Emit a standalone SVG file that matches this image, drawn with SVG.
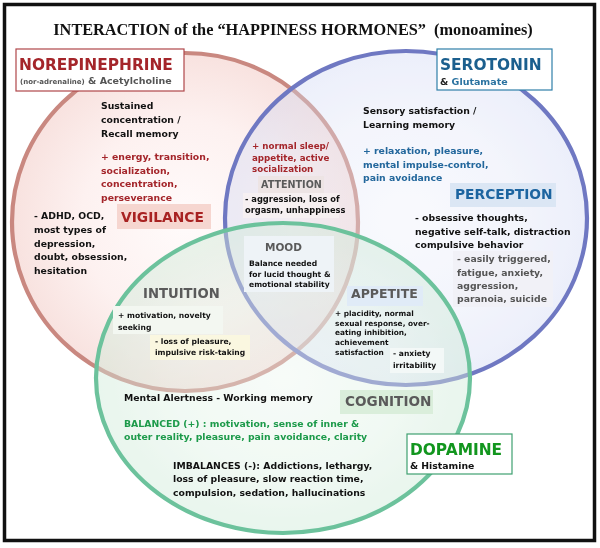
<svg xmlns="http://www.w3.org/2000/svg" width="600" height="548" viewBox="0 0 600 548">
<defs>
<radialGradient id="gRed" cx="0.5" cy="0.5" r="0.5"><stop offset="0" stop-color="#fffbfb"/><stop offset="0.6" stop-color="#fdf1f0"/><stop offset="1" stop-color="#f8e2df"/></radialGradient>
<radialGradient id="gBlue" cx="0.5" cy="0.5" r="0.5"><stop offset="0" stop-color="#fbfbfe"/><stop offset="0.6" stop-color="#f2f3fc"/><stop offset="1" stop-color="#e5e8f8"/></radialGradient>
<radialGradient id="gGreen" cx="0.5" cy="0.5" r="0.5"><stop offset="0" stop-color="#fafdfb"/><stop offset="0.6" stop-color="#eef8f1"/><stop offset="1" stop-color="#ddf1e4"/></radialGradient>
<style>
text{font-family:"DejaVu Sans",Verdana,sans-serif;font-weight:bold}
.t{font-size:9.3px;fill:#111}
.s{font-size:7.6px;fill:#111}
.red{fill:#a4252a}
.blue{fill:#23679c}
.grn{fill:#1c9a4a}
.gry{fill:#555}
.lbl{fill:#5a5a5a}
.fill{mix-blend-mode:multiply}
.ring{fill:none;stroke-width:4.2}
</style>
</defs>
<rect x="0" y="0" width="600" height="548" fill="#ffffff"/>
<rect x="4.5" y="4.5" width="590" height="536" fill="#ffffff" stroke="#111" stroke-width="3.5"/>
<text x="293" y="35" text-anchor="middle" xml:space="preserve" style="font-family:'Liberation Serif','Times New Roman',serif;font-size:16.3px;fill:#111">INTERACTION of the “HAPPINESS HORMONES”  (monoamines)</text>

<g id="circles">
<ellipse class="fill" cx="185" cy="222" rx="173" ry="169" fill="url(#gRed)"/>
<ellipse class="ring" cx="185" cy="222" rx="173" ry="169" stroke="#c98880"/>
<ellipse class="fill" cx="406" cy="218" rx="181" ry="167" fill="url(#gBlue)" opacity="0.85"/>
<ellipse cx="406" cy="218" rx="181" ry="167" fill="#f4f5fc" opacity="0.35"/>
<ellipse class="ring" cx="406" cy="218" rx="181" ry="167" stroke="#6f78c2"/>
<ellipse class="fill" cx="283" cy="378" rx="187" ry="155" fill="url(#gGreen)" opacity="0.85"/>
<ellipse cx="283" cy="378" rx="187" ry="155" fill="#f2faf4" opacity="0.4"/>
<ellipse class="ring" cx="283" cy="378" rx="187" ry="155" stroke="#6cc29c"/>
</g>

<g id="label-backgrounds">
<rect x="117" y="204" width="94" height="25" fill="#f6d6d0"/>
<rect x="258" y="176" width="66" height="17" fill="#ede4e4"/>
<rect x="243" y="193" width="96" height="25" fill="#f7f1f1" opacity="0.8"/>
<rect x="450" y="183" width="106" height="24" fill="#dbe6f4"/>
<rect x="453" y="251" width="100" height="56" fill="#f1f1f7"/>
<rect x="244" y="236" width="90" height="56" fill="#eef3f7"/>
<rect x="113" y="306" width="110" height="28" fill="#f3f7f1"/>
<rect x="150" y="335" width="100" height="25" fill="#faf7e0"/>
<rect x="347" y="286" width="76" height="20" fill="#e0ebf7"/>
<rect x="390" y="348" width="54" height="25" fill="#f3f8f7"/>
<rect x="340" y="390" width="93" height="24" fill="#daeedb"/>
</g>

<g id="norepinephrine">
<rect x="16" y="49" width="168" height="42" fill="#ffffff" stroke="#b0474a" stroke-width="1.2"/>
<text x="19" y="70" style="font-size:15.4px" class="red">NOREPINEPHRINE</text>
<text x="20" y="84"><tspan style="font-size:7px" class="gry">(nor-adrenaline)</tspan><tspan style="font-size:9.5px" class="gry"> &amp; Acetylcholine</tspan></text>
<text class="t" x="101" y="109">Sustained</text>
<text class="t" x="101" y="123">concentration /</text>
<text class="t" x="101" y="137">Recall memory</text>
<text class="t red" x="101" y="160">+ energy, transition,</text>
<text class="t red" x="101" y="174">socialization,</text>
<text class="t red" x="101" y="187">concentration,</text>
<text class="t red" x="101" y="201">perseverance</text>
<text x="121" y="222" style="font-size:13.8px;fill:#a82222">VIGILANCE</text>
<text class="t" x="34" y="219">- ADHD, OCD,</text>
<text class="t" x="34" y="233">most types of</text>
<text class="t" x="34" y="247">depression,</text>
<text class="t" x="34" y="260">doubt, obsession,</text>
<text class="t" x="34" y="274">hesitation</text>
</g>

<g id="attention">
<text class="t red" x="252" y="149" style="font-size:8.7px">+ normal sleep/</text>
<text class="t red" x="252" y="161" style="font-size:8.7px">appetite, active</text>
<text class="t red" x="252" y="172" style="font-size:8.7px">socialization</text>
<text x="261" y="188" class="lbl" style="font-size:9.6px">ATTENTION</text>
<text class="t" x="245" y="202" style="font-size:8.3px">- aggression, loss of</text>
<text class="t" x="245" y="213" style="font-size:8.3px">orgasm, unhappiness</text>
</g>

<g id="serotonin">
<rect x="437" y="49" width="115" height="41" fill="#ffffff" stroke="#2f7fa8" stroke-width="1.2"/>
<text x="440" y="70" style="font-size:15.4px;fill:#1b5f8e">SEROTONIN</text>
<text x="440" y="85" style="font-size:9.5px"><tspan fill="#222">&amp; </tspan><tspan fill="#2a72a0">Glutamate</tspan></text>
<text class="t" x="363" y="114">Sensory satisfaction /</text>
<text class="t" x="363" y="128">Learning memory</text>
<text class="t blue" x="363" y="154">+ relaxation, pleasure,</text>
<text class="t blue" x="363" y="168">mental impulse-control,</text>
<text class="t blue" x="363" y="181">pain avoidance</text>
<text x="455" y="199" style="font-size:13.8px;fill:#1c64a0">PERCEPTION</text>
<text class="t" x="415" y="221">- obsessive thoughts,</text>
<text class="t" x="415" y="235">negative self-talk, distraction</text>
<text class="t" x="415" y="248">compulsive behavior</text>
<text class="t gry" x="457" y="262">- easily triggered,</text>
<text class="t gry" x="457" y="276">fatigue, anxiety,</text>
<text class="t gry" x="457" y="289">aggression,</text>
<text class="t gry" x="457" y="302">paranoia, suicide</text>
</g>

<g id="mood">
<text x="265" y="251" class="lbl" style="font-size:10.5px">MOOD</text>
<text class="s" x="249" y="266">Balance needed</text>
<text class="s" x="249" y="277">for lucid thought &amp;</text>
<text class="s" x="249" y="287">emotional stability</text>
</g>

<g id="intuition">
<text x="143" y="298" class="lbl" style="font-size:13.2px">INTUITION</text>
<text class="s" x="118" y="318">+ motivation, novelty</text>
<text class="s" x="118" y="330">seeking</text>
<text class="s" x="155" y="344">- loss of pleasure,</text>
<text class="s" x="155" y="355">impulsive risk-taking</text>
</g>

<g id="appetite">
<text x="351" y="298" class="lbl" style="font-size:12.5px">APPETITE</text>
<text class="s" x="335" y="316" style="font-size:7.4px">+ placidity, normal</text>
<text class="s" x="335" y="326" style="font-size:7.4px">sexual response, over-</text>
<text class="s" x="335" y="335" style="font-size:7.4px">eating inhibition,</text>
<text class="s" x="335" y="345" style="font-size:7.4px">achievement</text>
<text class="s" x="335" y="355" style="font-size:7.4px">satisfaction</text>
<text class="s" x="393" y="356" style="font-size:7.6px">- anxiety</text>
<text class="s" x="393" y="368" style="font-size:7.6px">irritability</text>
</g>

<g id="dopamine">
<text class="t" x="124" y="401">Mental Alertness - Working memory</text>
<text x="345" y="406" class="lbl" style="font-size:13.6px">COGNITION</text>
<text class="t grn" x="124" y="427">BALANCED (+) : motivation, sense of inner &amp;</text>
<text class="t grn" x="124" y="440">outer reality, pleasure, pain avoidance, clarity</text>
<text class="t" x="173" y="469">IMBALANCES (-): Addictions, lethargy,</text>
<text class="t" x="173" y="482">loss of pleasure, slow reaction time,</text>
<text class="t" x="173" y="496">compulsion, sedation, hallucinations</text>
<rect x="407" y="434" width="105" height="40" fill="#ffffff" stroke="#3fa070" stroke-width="1.2"/>
<text x="410" y="455" style="font-size:15.4px;fill:#12961e">DOPAMINE</text>
<text x="410" y="469" style="font-size:9.3px;fill:#111">&amp; Histamine</text>
</g>
</svg>
